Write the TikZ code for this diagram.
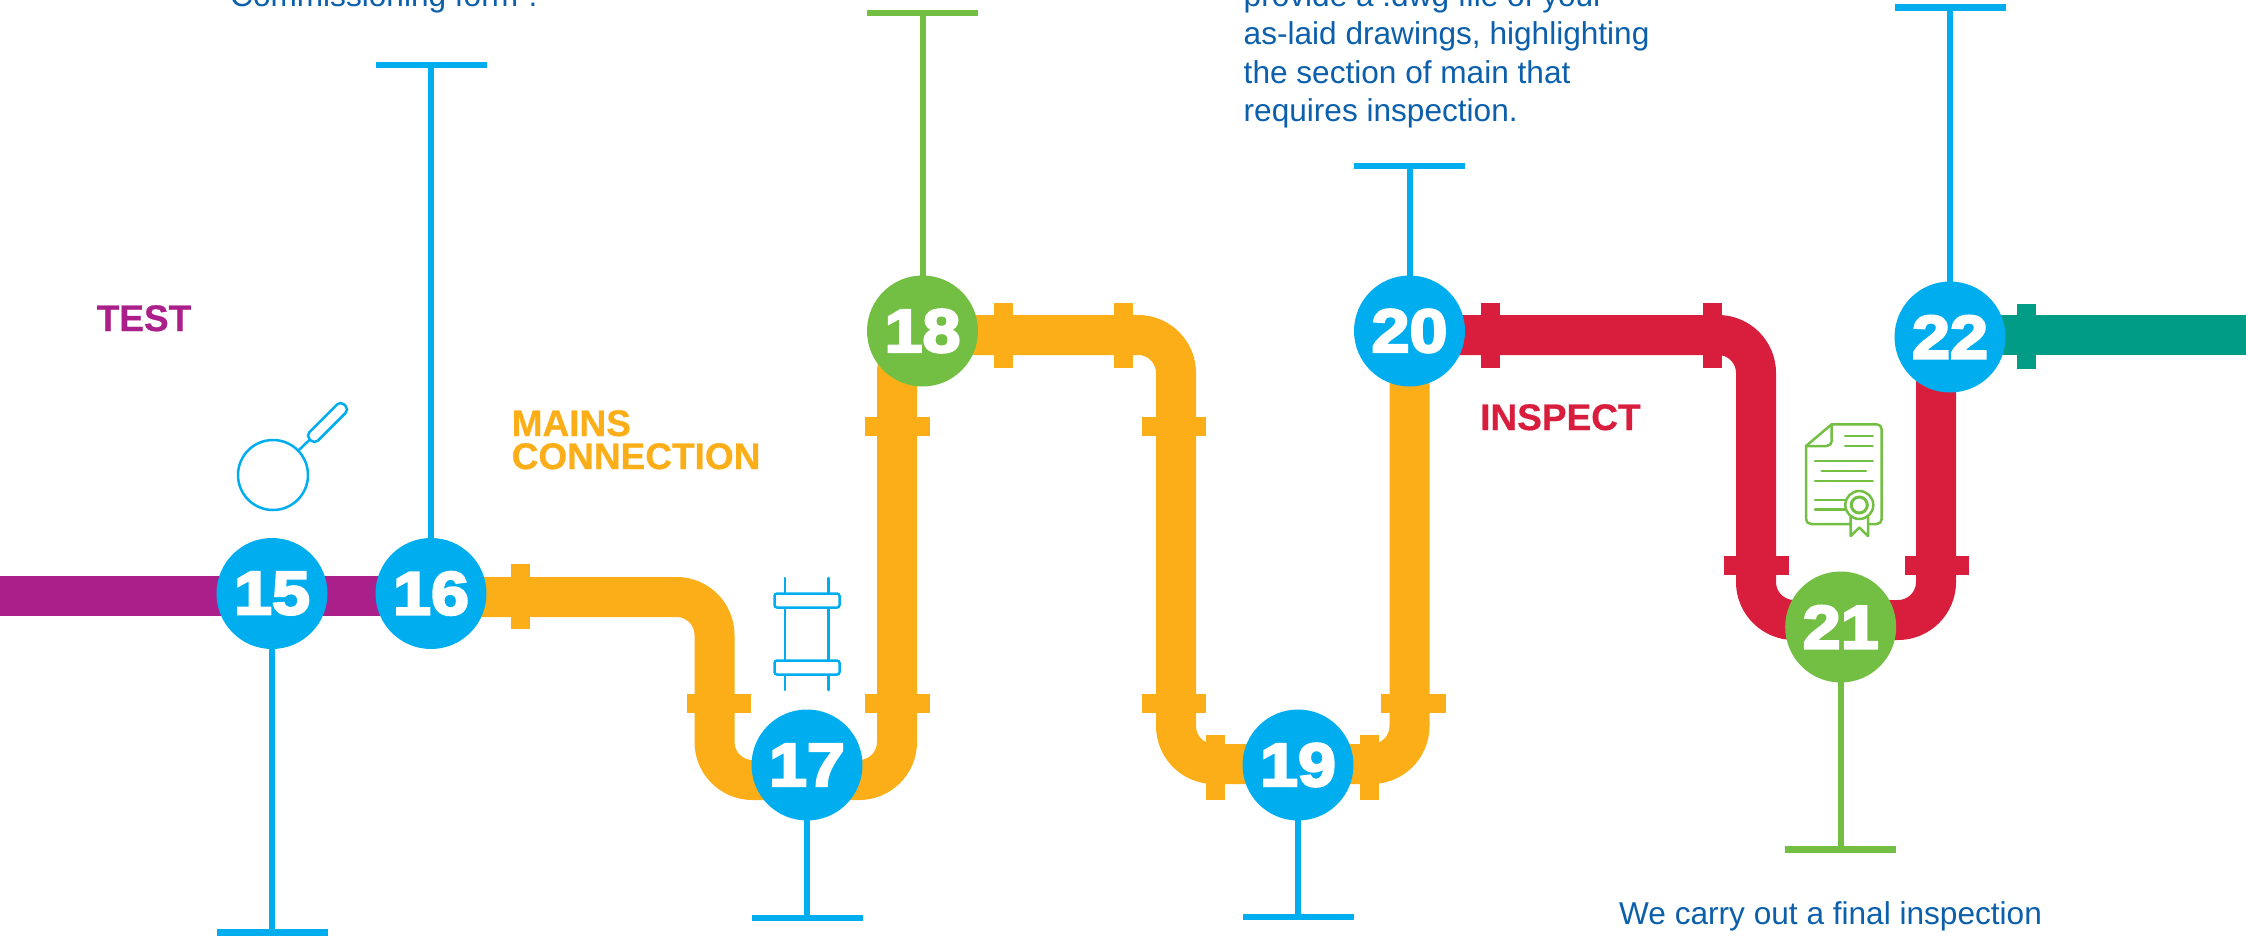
\documentclass[tikz,border=0pt]{standalone}
\usepackage{fontspec}
\setmainfont{Liberation Sans}
\newfontfamily\numfont[FakeBold=4,FakeStretch=1.12]{Liberation Sans Bold}
\newfontfamily\headfont[FakeBold=0.6]{Liberation Sans Bold}
\pgfdeclarelayer{back}
\pgfsetlayers{back,main}
\definecolor{cyanb}{HTML}{00AEEF}
\definecolor{greenb}{HTML}{72BF44}
\definecolor{orangep}{HTML}{FBAE17}
\definecolor{purplep}{HTML}{AB1F8B}
\definecolor{redp}{HTML}{D91E3D}
\definecolor{tealp}{HTML}{009C85}
\definecolor{textblue}{HTML}{0B5FAB}
\tikzset{
  stopnode/.style={circle,inner sep=0pt,minimum size=111pt,text=white,font=\numfont\fontsize{61}{61}\selectfont},
  pipe/.style={line width=40pt,rounded corners=38pt,line cap=butt},
  hfl/.style={rectangle,inner sep=0pt,minimum width=64.5pt,minimum height=19pt},
  vfl/.style={rectangle,inner sep=0pt,minimum width=19pt,minimum height=65pt},
  barb/.style={rectangle,inner sep=0pt,minimum width=111pt,minimum height=6.4pt},
  stem/.style={line width=6pt},
  icon/.style={line width=2.5pt,line cap=round,line join=round},
  head/.style={anchor=base west,inner sep=0pt,font=\headfont\fontsize{37}{33}\selectfont,align=left},
  body/.style={anchor=base west,inner sep=0pt,text=textblue,font=\fontsize{31.6}{38.5}\selectfont,align=left}
}
\begin{document}
\begin{tikzpicture}[x=1pt,y=-1pt]
\useasboundingbox (0,0) rectangle (2246,936);
% stops
\node[stopnode,fill=cyanb] (n15) at (272,593.5) {15};
\node[stopnode,fill=cyanb] (n16) at (431,593.5) {16};
\node[stopnode,fill=cyanb] (n17) at (807,765) {17};
\node[stopnode,fill=greenb] (n18) at (922.5,331) {18};
\node[stopnode,fill=cyanb] (n19) at (1298,765) {19};
\node[stopnode,fill=cyanb] (n20) at (1409.5,331) {20};
\node[stopnode,fill=greenb] (n21) at (1840.7,627) {21};
\node[stopnode,fill=cyanb] (n22) at (1950,337) {22};
% pipe bends
\coordinate (pe) at (0,596);
\coordinate (oa) at (714.5,597);
\coordinate (ob) at (714.5,780);
\coordinate (oc) at (897,780);
\coordinate (od) at (897,335);
\coordinate (oe) at (1176,335);
\coordinate (of) at (1176,764);
\coordinate (og) at (1409.5,764);
\coordinate (oh) at (1409.5,335);
\coordinate (ra) at (1756,335);
\coordinate (rb) at (1756,620);
\coordinate (rc) at (1936,620);
\coordinate (rd) at (1936,337);
\coordinate (te) at (2246,335);
\begin{pgfonlayer}{back}
  % bars and stems
  \node[barb,fill=cyanb] (b15) at (272,932.5) {};
  \node[barb,fill=cyanb] (b16) at (431,65) {};
  \node[barb,fill=cyanb] (b17) at (807,918) {};
  \node[barb,fill=greenb] (b18) at (922.5,13.3) {};
  \node[barb,fill=cyanb] (b19) at (1298,917) {};
  \node[barb,fill=cyanb] (b20) at (1409.5,166) {};
  \node[barb,fill=greenb] (b21) at (1840.7,849.3) {};
  \node[barb,fill=cyanb] (b22) at (1950,7.5) {};
  \draw[stem,cyanb] (n15.center) -- (b15.center);
  \draw[stem,cyanb] (n16.center) -- (b16.center);
  \draw[stem,cyanb] (n17.center) -- (b17.center);
  \draw[stem,greenb] (n18.center) -- (b18.north);
  \draw[stem,cyanb] (n19.center) -- (b19.south);
  \draw[stem,cyanb] (n20.center) -- (b20.center);
  \draw[stem,greenb] (n21.center) -- (b21.center);
  \draw[stem,cyanb] (n22.center) -- (b22.north);
  % pipes
  \draw[pipe,purplep] (pe) -- (n16.center |- pe);
  \draw[pipe,orangep] (n16.center |- oa) -- (oa) -- (ob) -- (oc) -- (od) -- (oe) -- (of) -- (og) -- (oh);
  \draw[pipe,redp] (n20.center |- ra) -- (ra) -- (rb) -- (rc) -- (rd);
  \draw[pipe,tealp] (n22.center |- te) -- (te);
  % flanges
  \node[vfl,fill=orangep] (f1) at (520.5,596.5) {};
  \node[hfl,fill=orangep] (f2) at (719,703.5) {};
  \node[hfl,fill=orangep] (f3) at (897.3,703.5) {};
  \node[hfl,fill=orangep] (f4) at (897.3,426.5) {};
  \node[vfl,fill=orangep] (f5) at (1003.5,335) {};
  \node[vfl,fill=orangep] (f6) at (1123,335) {};
  \node[hfl,fill=orangep] (f7) at (1174,426.5) {};
  \node[hfl,fill=orangep] (f8) at (1174,703.5) {};
  \node[vfl,fill=orangep] (f9) at (1215.5,767.5) {};
  \node[vfl,fill=orangep] (f10) at (1369.5,767.5) {};
  \node[hfl,fill=orangep] (f11) at (1413.3,703.5) {};
  \node[vfl,fill=redp] (f12) at (1490,335) {};
  \node[vfl,fill=redp] (f13) at (1712.5,335) {};
  \node[hfl,fill=redp] (f14) at (1756.7,565.5) {};
  \node[hfl,fill=redp] (f15) at (1937,565.5) {};
  \node[vfl,fill=tealp] (f16) at (2026.5,336.5) {};
\end{pgfonlayer}
% labels
\node[head,text=purplep] (ltest) at (96.5,331) {TEST};
\node[head,text=orangep] (lmains) at (511.5,469) {MAINS\\CONNECTION};
\node[head,text=redp] (linspect) at (1480,430) {INSPECT};
\node[body] (t1) at (230,6.5) {Commissioning form”.};
\node[body] (t2) at (1243.5,122) {provide a .dwg file of your\\as-laid drawings, highlighting\\the section of main that\\requires inspection.};
\node[body] (t3) at (1619,924) {We carry out a final inspection};
% pan icon
\node[circle,draw=cyanb,line width=2.5pt,inner sep=0pt,minimum size=70pt] (pan) at (273,475) {};
\node[rectangle,draw=cyanb,line width=2.5pt,rounded corners=5pt,inner sep=0pt,minimum width=49pt,minimum height=12pt,rotate=45] (panh) at (327.5,422.5) {};
\draw[icon,cyanb] (pan) -- (panh);
% coupling icon
\draw[icon,cyanb] (785,578) -- (785,690);
\draw[icon,cyanb] (828.7,578) -- (828.7,690);
\node[rectangle,draw=cyanb,fill=white,line width=2.5pt,rounded corners=2.5pt,inner sep=0pt,minimum width=65pt,minimum height=14pt] (cu1) at (807,600.5) {};
\node[rectangle,draw=cyanb,fill=white,line width=2.5pt,rounded corners=2.5pt,inner sep=0pt,minimum width=65pt,minimum height=14pt] (cu2) at (807,667.5) {};
% certificate icon
\begin{scope}[icon,greenb]
  \draw[rounded corners=5pt] (1851,524) -- (1806,524) -- (1806,446);
  \draw (1806,446) -- (1831.7,424.3);
  \draw[rounded corners=5pt] (1831.7,424.3) -- (1881.7,424.3) -- (1881.7,524) -- (1868,524);
  \draw[rounded corners=5pt] (1831.7,424.3) -- (1831.7,446) -- (1806,446);
  \draw (1845,436) -- (1872.7,436);
  \draw (1845,446) -- (1872.7,446);
  \draw (1815,461) -- (1872.7,461);
  \draw (1821.7,471) -- (1866,471);
  \draw (1815,481) -- (1872.7,481);
  \draw (1815,500) -- (1845,500);
  \draw (1815,509.3) -- (1845,509.3);
  \node[circle,draw=greenb,line width=2.5pt,inner sep=0pt,minimum size=28pt] (seal) at (1859.3,505) {};
  \node[circle,draw=greenb,line width=3pt,inner sep=0pt,minimum size=16pt] (sealin) at (1859.3,505) {};
  \draw (1850.7,517) -- (1850.7,536) -- (1859.3,527.5) -- (1868,536) -- (1868,517);
\end{scope}
\end{tikzpicture}
\end{document}
